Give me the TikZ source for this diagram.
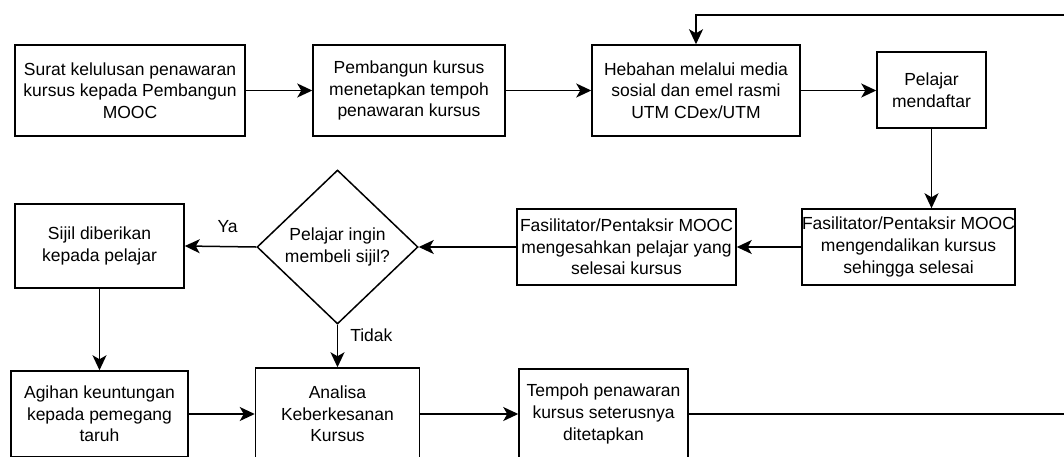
\documentclass[tikz,border=0pt]{standalone}
\usepackage{fontspec}
\setmainfont{Liberation Sans}
\usepackage{tikz}
\usetikzlibrary{calc,positioning,shapes.geometric,arrows.meta}
\definecolor{flowline}{HTML}{000000}

\tikzset{
  flowbox/.style={draw=flowline, line width=1.5pt, align=center, inner sep=0pt,
    font=\fontsize{17.5}{21.7}\selectfont},
  flowdec/.style={flowbox, diamond, aspect=1},
  flowarrow/.style={draw=flowline, line width=1.5pt,
    -{Stealth[length=15pt,width=14pt,inset=4pt]}},
  flowlabel/.style={font=\fontsize{17.5}{21.7}\selectfont, inner sep=0pt}
}

\begin{document}
\begin{tikzpicture}[x=1pt, y=-1pt]
  \useasboundingbox (0,0) rectangle (1064,456);
  \clip (0,0) rectangle (1064,456);

  % top row
  \node[flowbox, minimum width=230pt, minimum height=91pt] (surat) at (130,90.5)
    {Surat kelulusan penawaran\\kursus kepada Pembangun\\MOOC};
  \node[flowbox, minimum width=192pt, minimum height=91pt] (bina) at (409,90.5)
    {Pembangun kursus\\menetapkan tempoh\\penawaran kursus};
  \node[flowbox, minimum width=208pt, minimum height=91pt] (hebah) at (696,90.5)
    {Hebahan melalui media\\sosial dan emel rasmi\\UTM CDex/UTM};
  \node[flowbox, minimum width=109pt, minimum height=76pt] (daftar) at (931.5,90)
    {Pelajar\\mendaftar};

  % middle row
  \node[flowbox, minimum width=211pt, minimum height=76pt] (kendali) at (908.5,247)
    {Fasilitator/Pentaksir MOOC\\mengendalikan kursus\\sehingga selesai};
  \node[flowbox, minimum width=219pt, minimum height=76pt] (sahkan) at (626.5,247)
    {Fasilitator/Pentaksir MOOC\\mengesahkan pelajar yang\\selesai kursus};
  \node[flowdec, minimum width=161pt, minimum height=154pt] (beli) at (337.5,247)
    {Pelajar ingin\\membeli sijil?};
  \node[flowbox, minimum width=169pt, minimum height=84pt] (sijil) at (99.5,246)
    {Sijil diberikan\\kepada pelajar};

  % bottom row
  \node[flowbox, minimum width=177pt, minimum height=86pt] (agihan) at (99.5,414)
    {Agihan keuntungan\\kepada pemegang\\taruh};
  \node[flowbox, minimum width=164pt, minimum height=92pt] (analisa) at (337.5,414)
    {Analisa\\Keberkesanan\\Kursus};
  \node[flowbox, minimum width=169pt, minimum height=90pt] (tempoh) at (603.5,414)
    {Tempoh penawaran\\kursus seterusnya\\ditetapkan};

  \coordinate (loopR) at (1080,414);
  \coordinate (loopT) at (1080,15);

  % connectors
  \draw[flowarrow] (surat) -- (bina);
  \draw[flowarrow] (bina) -- (hebah);
  \draw[flowarrow] (hebah.east) -- (hebah.east -| daftar.west);
  \draw[flowarrow] (daftar.south) -- (daftar.south |- kendali.north);
  \draw[flowarrow] (kendali) -- (sahkan);
  \draw[flowarrow] (sahkan.west) -- (beli.east);
  \draw[flowarrow] (beli.west) -- (sijil.east)
    node[flowlabel, pos=0.4, above=13pt] (ya) {Ya};
  \draw[flowarrow] (beli.south) -- (analisa.north)
    node[flowlabel, pos=0.25, right=12pt] (tidak) {Tidak};
  \draw[flowarrow] (sijil.south) -- (sijil.south |- agihan.north);
  \draw[flowarrow] (agihan) -- (analisa);
  \draw[flowarrow] (analisa) -- (tempoh);
  \draw[flowarrow] (tempoh.east) -- (loopR) -- (loopT) -- (loopT -| hebah.north) -- (hebah.north);
\end{tikzpicture}
\end{document}
